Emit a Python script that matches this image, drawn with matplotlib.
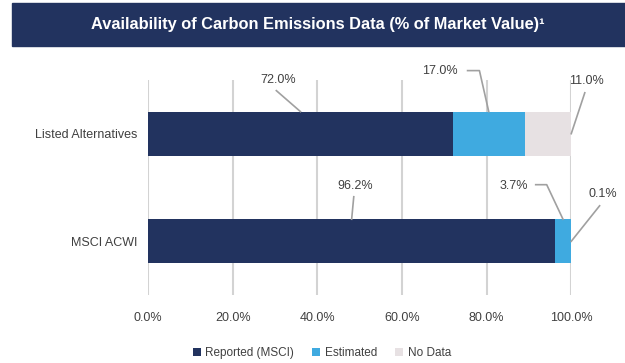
import matplotlib.pyplot as plt
from matplotlib.patches import Rectangle

# chart data
categories = ['MSCI ACWI', 'Listed Alternatives']
series_names = ['Reported (MSCI)', 'Estimated', 'No Data']
reported = [96.2, 72.0]
estimated = [3.7, 17.0]
no_data = [0.1, 11.0]
tick_values = [0, 20, 40, 60, 80, 100]
tick_labels = ['0.0%', '20.0%', '40.0%', '60.0%', '80.0%', '100.0%']

colors = ['#22335F', '#3FAAE0', '#E7E1E3']
text_col = '#404040'
grid_col = '#D3D3D3'
font = ['Liberation Sans', 'DejaVu Sans']

plt.rcParams['font.family'] = font

fig = plt.figure(figsize=(6.25, 3.63), dpi=100)
ax = fig.add_axes([0.237, 0.187, 0.677, 0.593])

bar_h = 0.41
y = list(range(len(categories)))
left = [0.0] * len(categories)
for vals, name, col in zip([reported, estimated, no_data], series_names, colors):
    ax.barh(y, vals, left=left, height=bar_h, color=col, label=name, zorder=3)
    left = [l + v for l, v in zip(left, vals)]

ax.set_xlim(0, 100)
ax.set_ylim(-0.5, 1.5)
ax.set_xticks(tick_values)
ax.set_xticklabels(tick_labels)
ax.set_yticks(y)
ax.set_yticklabels(categories)
ax.tick_params(length=0, labelsize=9, labelcolor=text_col)
ax.tick_params(axis='x', pad=12)
ax.tick_params(axis='y', pad=8)
for s in ax.spines.values():
    s.set_visible(False)
ax.grid(axis='x', color=grid_col, linewidth=1.5, zorder=0)

# data labels with leader lines
# series idx, cat idx, text (x, y), leader path before the anchor on the bar
label_layout = [
    (0, 1, (30.7, 1.50), [(30.3, 1.40)]),
    (1, 1, (69.0, 1.586), [(75.5, 1.586), (78.3, 1.586)]),
    (2, 1, (103.7, 1.493), [(103.2, 1.38)]),
    (0, 0, (48.9, 0.516), [(48.6, 0.414)]),
    (1, 0, (86.4, 0.516), [(91.6, 0.526), (94.2, 0.526)]),
    (2, 0, (107.4, 0.442), [(106.7, 0.33)]),
]
all_series = [reported, estimated, no_data]
for si, ci, (tx, ty), path in label_layout:
    start = sum(all_series[k][ci] for k in range(si))
    val = all_series[si][ci]
    if si == 2:
        anchor = (start + val, ci)
    else:
        anchor = (start + val / 2, ci + bar_h / 2)
    pts = path + [anchor]
    ax.plot([p[0] for p in pts], [p[1] for p in pts], color='#A0A0A0',
            lw=1.2, clip_on=False, zorder=4)
    ax.text(tx, ty, f'{val:.1f}%', ha='center', va='center', fontsize=9,
            color=text_col, clip_on=False)

# title banner
fig.patches.append(Rectangle((12 / 625, 1 - 46 / 363), 1 - 12 / 625, 43 / 363,
                             transform=fig.transFigure, color='#22335F', zorder=0))
fig.text(0.508, 1 - 25 / 363, 'Availability of Carbon Emissions Data (% of Market Value)¹',
         ha='center', va='center', color='white', fontsize=11.8, fontweight='bold')

fig.legend(loc='center', bbox_to_anchor=(0.515, 0.028), ncol=3, frameon=False,
           fontsize=8.5, handlelength=0.7, handleheight=0.7, handletextpad=0.4,
           columnspacing=1.5, labelcolor=text_col)

fig.savefig('out.png', dpi=100)
